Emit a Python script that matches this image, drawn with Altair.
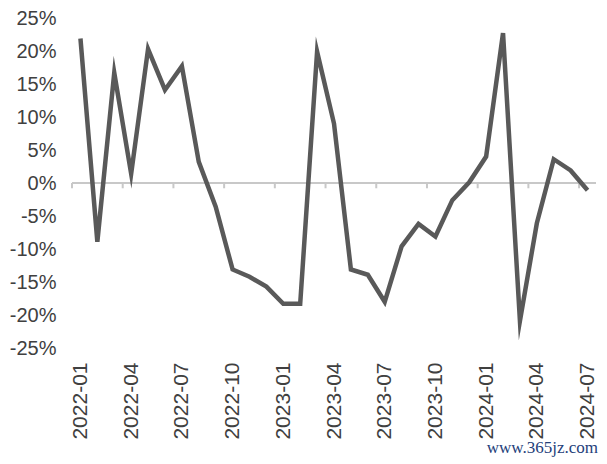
import altair as alt
import pandas as pd

months = ["2022-01","2022-02","2022-03","2022-04","2022-05","2022-06","2022-07","2022-08","2022-09","2022-10","2022-11","2022-12",
          "2023-01","2023-02","2023-03","2023-04","2023-05","2023-06","2023-07","2023-08","2023-09","2023-10","2023-11","2023-12",
          "2024-01","2024-02","2024-03","2024-04","2024-05","2024-06","2024-07"]
values = [0.219, -0.089, 0.167, 0.014, 0.203, 0.141, 0.177, 0.032, -0.036, -0.131, -0.142, -0.157,
          -0.183, -0.183, 0.199, 0.090, -0.131, -0.139, -0.180, -0.096, -0.062, -0.081, -0.026, 0.001,
          0.040, 0.227, -0.209, -0.061, 0.036, 0.019, -0.011]
label_idx = list(range(0, 31, 3))
tick_pos = [i - 0.5 for i in label_idx]
y_ticks = [-0.25, -0.2, -0.15, -0.1, -0.05, 0, 0.05, 0.1, 0.15, 0.2, 0.25]

df = pd.DataFrame({"i": list(range(len(months))), "month": months, "v": values})
ticks_df = pd.DataFrame({"t": tick_pos})

label_map = "{" + ",".join(f"'{i}':'{months[i]}'" for i in label_idx) + "}"

FONT = "Liberation Sans"
TXT = "#404040"

xscale = alt.Scale(domain=[-0.5, 30.5], nice=False, zero=False)
yscale = alt.Scale(domain=[-0.25, 0.25], nice=False)

x_axis = alt.Axis(values=label_idx, labelExpr=f"{label_map}[toString(datum.value)]",
                  labelAngle=270, labelAlign="right", labelBaseline="middle",
                  labelPadding=14, ticks=False, domain=False, grid=False, title=None,
                  labelFont=FONT, labelFontSize=21, labelColor=TXT, labelOverlap=False)
y_axis = alt.Axis(values=y_ticks, labelExpr="toString(round(datum.value*100)) + '%'",
                  ticks=False, domain=False, grid=False, labelOverlap=False,
                  title=None, labelPadding=16, labelFont=FONT, labelFontSize=20, labelColor=TXT)

zero = alt.Chart(pd.DataFrame({"a": [-0.5], "b": [30.5]})).mark_rule(color="#c8c8c8", strokeWidth=2).encode(
    x=alt.X("a:Q", scale=xscale, axis=x_axis), x2="b:Q", y=alt.datum(0, scale=yscale, axis=y_axis))

tks = alt.Chart(ticks_df).mark_rule(color="#c8c8c8", strokeWidth=2).encode(
    x=alt.X("t:Q", scale=xscale, axis=x_axis), y=alt.datum(0, axis=y_axis), y2=alt.datum(-0.008))

line = alt.Chart(df).mark_line(color="#595959", strokeWidth=4.5, strokeJoin="miter", strokeMiterLimit=10).encode(
    x=alt.X("i:Q", scale=xscale, axis=x_axis), y=alt.Y("v:Q", scale=yscale, axis=y_axis))

wm = alt.Chart(pd.DataFrame({"w": ["www.365jz.com"]})).mark_text(
    font="Liberation Serif", fontSize=17, color="#24407a", align="right", baseline="middle").encode(
    text="w:N", x=alt.value(526), y=alt.value(430))

chart = alt.layer(zero, tks, line, wm).properties(
    width=524, height=330,
    autosize=alt.AutoSizeParams(type="none"),
    padding={"left": 64, "top": 10, "right": 3, "bottom": 110},
).configure_view(stroke=None).configure_axis(labelOverlap=False)

chart.save("out.html", embed_options={"renderer": "svg", "actions": False})
